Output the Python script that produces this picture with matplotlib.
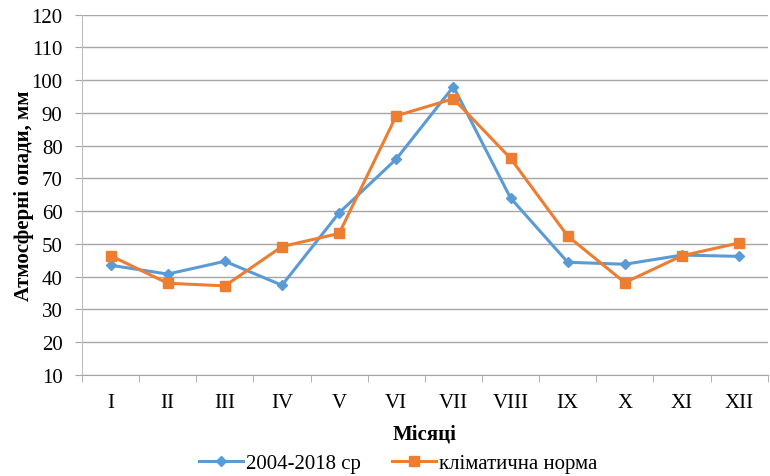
import numpy as np
import matplotlib.pyplot as plt
from matplotlib.ticker import FixedLocator, NullFormatter

months = ["I", "II", "III", "IV", "V", "VI", "VII", "VIII", "IX", "X", "XI", "XII"]
avg_2004_2018 = [43.5, 40.8, 44.7, 37.4, 59.5, 75.9, 98.0, 64.0, 44.4, 43.8, 46.6, 46.2]
climate_norm = [46.4, 38.0, 37.2, 49.2, 53.2, 89.1, 94.3, 76.1, 52.4, 38.2, 46.4, 50.3]
y_ticks = list(range(10, 121, 10))


def main():
    plt.rcParams["font.family"] = ["Liberation Serif", "DejaVu Serif"]

    fig = plt.figure(figsize=(7.7, 4.77), dpi=100)
    ax = fig.add_axes([0.1065, 0.2117, 0.8905, 0.7558])

    x = np.arange(1, len(months) + 1)
    ax.plot(x, avg_2004_2018, color="#5B9BD5", lw=2.2, marker="D", ms=5.5,
            label="2004-2018 ср", zorder=3)
    ax.plot(x, climate_norm, color="#ED7D31", lw=2.2, marker="s", ms=7.5,
            label="кліматична норма", zorder=4)

    ax.set_xlim(0.5, 12.5)
    ax.set_ylim(10, 120)
    ax.set_yticks(y_ticks)
    ax.set_xticks(x)
    ax.set_xticklabels(months)
    ax.xaxis.set_minor_locator(FixedLocator(np.arange(0.5, 13, 1)))
    ax.xaxis.set_minor_formatter(NullFormatter())
    ax.tick_params(axis="x", which="major", length=0, labelsize=15, pad=13)
    ax.tick_params(axis="x", which="minor", length=5, color="#A6A6A6")
    ax.tick_params(axis="y", length=5, color="#A6A6A6", labelsize=15, pad=9)

    ax.grid(axis="y", color="#A6A6A6", lw=1)
    ax.set_axisbelow(True)
    for side in ["top", "right"]:
        ax.spines[side].set_visible(False)
    ax.spines["left"].set_color("#BFBFBF")
    ax.spines["bottom"].set_color("#A6A6A6")

    ax.set_ylabel("Атмосферні опади, мм", fontsize=15, fontweight="bold", labelpad=-2)
    ax.set_xlabel("Місяці", fontsize=15, fontweight="bold", labelpad=8)

    ax.legend(loc="lower center", bbox_to_anchor=(0.461, -0.325), ncol=2,
              frameon=False, fontsize=15, handlelength=2.1, columnspacing=1.5,
              handletextpad=0.15)

    fig.savefig("out.png", dpi=100)


if __name__ == "__main__":
    main()
